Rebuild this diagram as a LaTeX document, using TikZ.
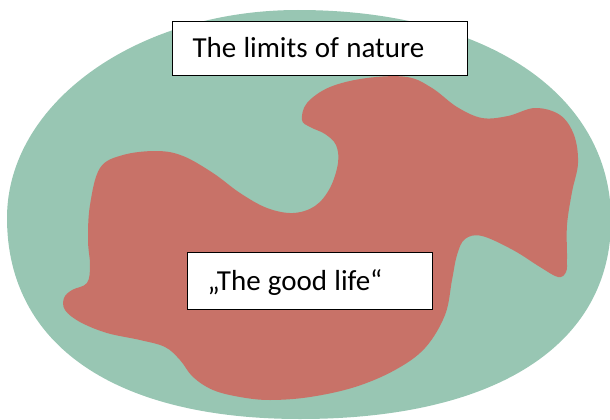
\documentclass[tikz,border=0pt]{standalone}
\usepackage{fontspec}
\setmainfont{Carlito}
\definecolor{natgreen}{RGB}{152,198,179}
\definecolor{lifered}{RGB}{200,114,104}
\newcommand\boxtext[2]{\makebox[#1][l]{\spaceskip=0.25em\relax #2}}
\begin{document}
\begin{tikzpicture}[x=1pt,y=-1pt,
  labelbox/.style={draw=black,line width=0.8pt,fill=white,inner xsep=20pt,inner ysep=0pt,
    font=\fontsize{29}{34}\selectfont,text height=20pt,text depth=0pt}]
\useasboundingbox (0,0) rectangle (610,420);
% the limits of nature (green oval)
\fill[natgreen] (7,218) .. controls (7,103) and (137,10) .. (298,10)
  .. controls (486,10) and (611,94) .. (611,220)
  .. controls (611,345) and (496,419) .. (300,419)
  .. controls (115,419) and (7,345) .. (7,218) -- cycle;
% the good life (red blob)
\fill[lifered] plot[smooth cycle, tension=0.6] coordinates {
(302,120) (307,103) (330,87) (367,78) (407,77) (432,88) (457,107) (482,118)
(508,116) (535,108) (560,115) (574,135) (578,163) (572,192) (567,225) (567,258)
(566,272) (558,277) (540,267) (513,250) (482,236) (465,239) (457,255) (452,280)
(445,315) (425,348) (395,370) (355,387) (310,397) (270,400) (240,397) (213,390)
(193,377) (180,360) (165,347) (140,340) (107,333) (80,322) (65,310) (64,298)
(72,290) (87,283) (90,265) (88,240) (90,205) (100,168) (123,155) (157,151)
(183,156) (213,173) (240,193) (267,208) (293,213) (315,206) (330,188) (338,163)
(336,145) (325,134) (310,127)};
\node[labelbox,minimum height=54pt] (limits) at (320,48) {\boxtext{255pt}{The limits of nature}};
\node[labelbox,minimum height=57pt] (goodlife) at (310,280.5) {\boxtext{205pt}{„The good life“}};
\end{tikzpicture}
\end{document}
